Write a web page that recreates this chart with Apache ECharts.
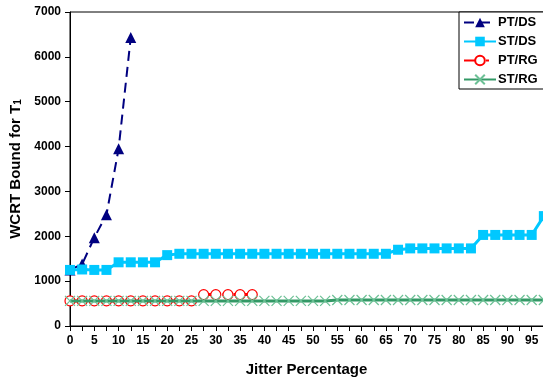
<!DOCTYPE html>
<html>
<head>
<meta charset="utf-8">
<script src="https://cdn.jsdelivr.net/npm/echarts@6/dist/echarts.min.js"></script>
<style>html,body{margin:0;padding:0;background:#fff}#chart{width:543px;height:382px}</style>
</head>
<body>
<div id="chart"></div>
<script>
var jitter = [0, 2.5, 5, 7.5, 10, 12.5, 15, 17.5, 20, 22.5, 25, 27.5, 30, 32.5, 35, 37.5, 40, 42.5, 45, 47.5, 50, 52.5, 55, 57.5, 60, 62.5, 65, 67.5, 70, 72.5, 75, 77.5, 80, 82.5, 85, 87.5, 90, 92.5, 95, 97.5];
var ptDs = [1250, 1380, 1970, 2480, 3950, 6430];
var stDs = [1250, 1260, 1250, 1250, 1420, 1420, 1420, 1420, 1580, 1610, 1610, 1610, 1610, 1610, 1610, 1610, 1610, 1610, 1610, 1610, 1610, 1610, 1610, 1610, 1610, 1610, 1610, 1700, 1730, 1730, 1730, 1730, 1730, 1730, 2030, 2030, 2030, 2030, 2030, 2450];
var ptRg = [560, 560, 560, 560, 560, 560, 560, 560, 560, 560, 560, 700, 700, 700, 700, 700];
var stRg = [560, 560, 560, 560, 560, 560, 560, 560, 560, 560, 560, 560, 560, 560, 560, 560, 560, 560, 560, 560, 560, 560, 580, 580, 580, 580, 580, 580, 580, 580, 580, 580, 580, 580, 580, 580, 580, 580, 580, 580];
var xTickLabels = ['0', '5', '10', '15', '20', '25', '30', '35', '40', '45', '50', '55', '60', '65', '70', '75', '80', '85', '90', '95'];
var seriesNames = ['PT/DS', 'ST/DS', 'PT/RG', 'ST/RG'];

function pairs(vals) {
  return vals.map(function (v, i) { return [jitter[i], v]; });
}

var FONT = '"Liberation Sans", Arial, sans-serif';
var chart = echarts.init(document.getElementById('chart'), null, {renderer: 'canvas'});
chart.setOption({
  animation: false,
  backgroundColor: '#fff',
  grid: {left: 70, top: 12, bottom: 56, right: -13, show: true, borderColor: '#000', borderWidth: 1,
         containLabel: false, outerBoundsMode: 'none'},
  legend: {
    orient: 'vertical', left: 459, top: 12,
    backgroundColor: '#fff', borderColor: '#000', borderWidth: 1,
    padding: [4, 12, 3, 4],
    itemWidth: 32, itemHeight: 12, itemGap: 6,
    textStyle: {fontFamily: FONT, fontWeight: 'bold', fontSize: 13, color: '#000', padding: [0, 0, 0, -3]},
    data: seriesNames
  },
  xAxis: {
    type: 'value', min: 0, max: 100, interval: 2.5,
    name: 'Jitter Percentage', nameLocation: 'middle', nameGap: 36,
    nameTextStyle: {fontFamily: FONT, fontWeight: 'bold', fontSize: 15, color: '#000', padding: [0, 13, 0, 0]},
    axisLine: {lineStyle: {color: '#000', width: 1}},
    axisTick: {show: true, length: 5, lineStyle: {color: '#000'}},
    splitLine: {show: false},
    axisLabel: {
      fontFamily: FONT, fontWeight: 'bold', fontSize: 12, color: '#000', margin: 9,
      showMaxLabel: false,
      formatter: function (v) {
        var i = Math.round(v / 5);
        return (Math.abs(v - i * 5) < 1e-6 && i < xTickLabels.length) ? xTickLabels[i] : '';
      }
    }
  },
  yAxis: {
    type: 'value', min: 0, max: 7000, interval: 1000,
    name: '{t|WCRT Bound for T}{s|1}', nameLocation: 'middle', nameGap: 45,
    nameTextStyle: {
      rich: {
        t: {fontFamily: FONT, fontWeight: 'bold', fontSize: 15, color: '#000'},
        s: {fontFamily: FONT, fontWeight: 'bold', fontSize: 10, color: '#000', verticalAlign: 'bottom', padding: [6, 0, 0, 0]}
      }
    },
    axisLine: {show: true, lineStyle: {color: '#000', width: 1}},
    axisTick: {show: true, length: 5, lineStyle: {color: '#000'}},
    splitLine: {show: false},
    axisLabel: {fontFamily: FONT, fontWeight: 'bold', fontSize: 12, color: '#000', margin: 9,
      formatter: function (v) { return String(v); }}
  },
  series: [
    {
      name: seriesNames[0], type: 'line', data: pairs(ptDs),
      symbol: 'triangle', symbolSize: 11,
      itemStyle: {color: '#000080'},
      lineStyle: {color: '#000080', width: 2, type: [10, 6]},
      z: 2
    },
    {
      name: seriesNames[1], type: 'line', data: pairs(stDs),
      symbol: 'rect', symbolSize: 10,
      itemStyle: {color: '#00C8FF'},
      lineStyle: {color: '#00C8FF', width: 3},
      z: 3
    },
    {
      name: seriesNames[2], type: 'line', data: pairs(ptRg),
      symbol: 'circle', symbolSize: 10,
      itemStyle: {color: '#fff', borderColor: '#FF0000', borderWidth: 1.2},
      lineStyle: {color: '#FF0000', width: 3, type: [14, 8, 3, 8]},
      z: 4
    },
    {
      name: seriesNames[3], type: 'line', data: pairs(stRg),
      symbol: 'path://M0,0 L10,10 M10,0 L0,10', symbolSize: 10,
      itemStyle: {color: '#339966', borderColor: '#6cc095', borderWidth: 1.2},
      lineStyle: {color: '#339966', width: 3},
      z: 5
    }
  ]
});
</script>
</body>
</html>
